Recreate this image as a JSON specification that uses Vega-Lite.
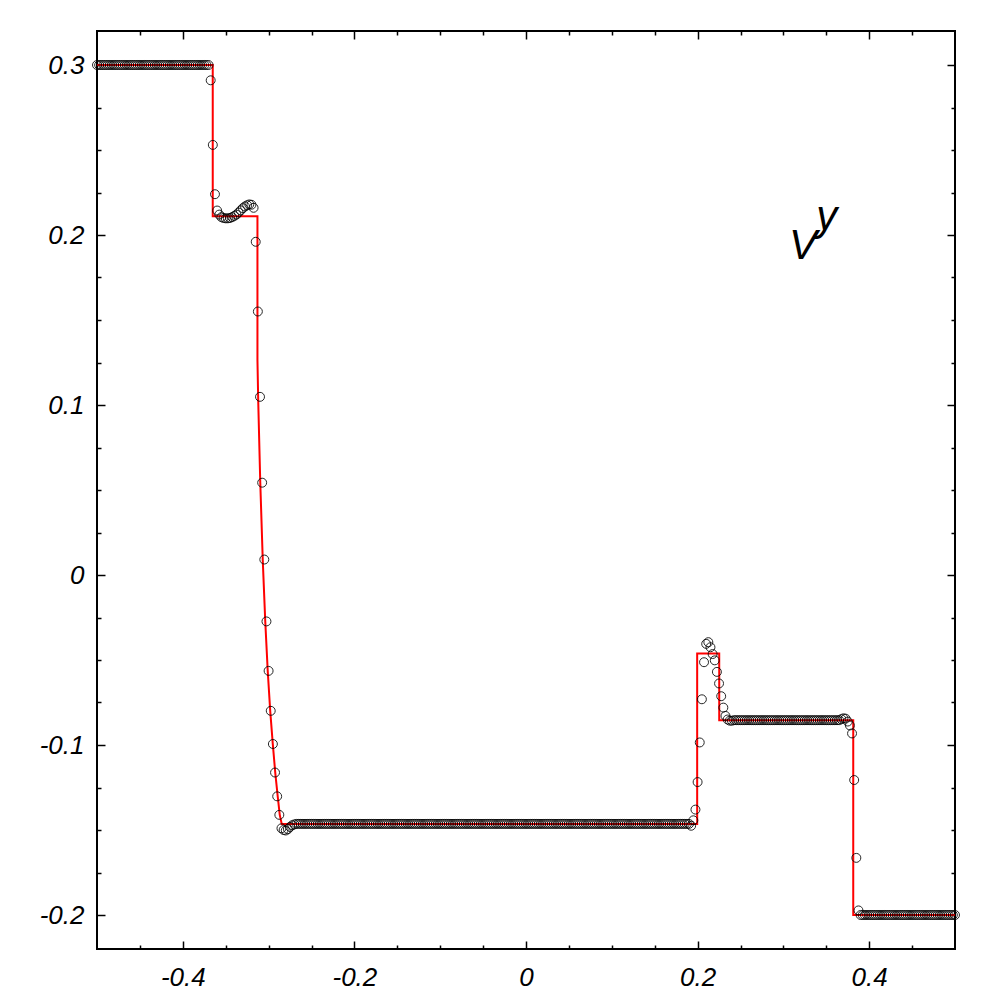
{
 "$schema": "https://vega.github.io/schema/vega-lite/v6.json",
 "width": 858, "height": 918,
 "autosize": {"type": "none"},
 "padding": {"left": 97, "top": 31, "right": 45, "bottom": 51},
 "background": "white",
 "config": {"view": {"stroke": "#000", "strokeWidth": 2}},
 "datasets": {
  "exact": [
   {"k":0,"x":-0.5,"y":0.3},{"k":1,"x":-0.3651,"y":0.3},{"k":2,"x":-0.3651,"y":0.2111},{"k":3,"x":-0.313,"y":0.2111},{"k":4,"x":-0.313,"y":0.1265},{"k":5,"x":-0.3121,"y":0.1025},{"k":6,"x":-0.3097,"y":0.0543},{"k":7,"x":-0.3068,"y":0.0086},{"k":8,"x":-0.3039,"y":-0.0273},{"k":9,"x":-0.301,"y":-0.0566},{"k":10,"x":-0.2981,"y":-0.0801},{"k":11,"x":-0.2951,"y":-0.0995},{"k":12,"x":-0.2922,"y":-0.1165},{"k":13,"x":-0.2893,"y":-0.1306},{"k":14,"x":-0.287,"y":-0.1411},{"k":15,"x":-0.2847,"y":-0.1464},{"k":16,"x":0.1995,"y":-0.1464},{"k":17,"x":0.1995,"y":-0.0462},{"k":18,"x":0.2252,"y":-0.0462},{"k":19,"x":0.2252,"y":-0.0854},{"k":20,"x":0.3814,"y":-0.0854},{"k":21,"x":0.3814,"y":-0.2},{"k":22,"x":0.5,"y":-0.2}
  ],
  "ann": [
   {"x":0.3066,"y":0.1858,"t":"V"},{"x":0.3383,"y":0.2029,"t":"y"}
  ],
  "num": [
   {"x":-0.5,"y":0.3},{"x":-0.4975,"y":0.3},{"x":-0.495,"y":0.3},{"x":-0.4925,"y":0.3},{"x":-0.49,"y":0.3},{"x":-0.4875,"y":0.3},{"x":-0.485,"y":0.3},{"x":-0.4825,"y":0.3},{"x":-0.48,"y":0.3},{"x":-0.4775,"y":0.3},{"x":-0.475,"y":0.3},{"x":-0.4725,"y":0.3},{"x":-0.47,"y":0.3},{"x":-0.4675,"y":0.3},{"x":-0.465,"y":0.3},{"x":-0.4625,"y":0.3},{"x":-0.46,"y":0.3},{"x":-0.4575,"y":0.3},{"x":-0.455,"y":0.3},{"x":-0.4525,"y":0.3},{"x":-0.45,"y":0.3},{"x":-0.4475,"y":0.3},{"x":-0.445,"y":0.3},{"x":-0.4425,"y":0.3},{"x":-0.44,"y":0.3},{"x":-0.4375,"y":0.3},{"x":-0.435,"y":0.3},{"x":-0.4325,"y":0.3},{"x":-0.43,"y":0.3},{"x":-0.4275,"y":0.3},{"x":-0.425,"y":0.3},{"x":-0.4225,"y":0.3},{"x":-0.42,"y":0.3},{"x":-0.4175,"y":0.3},{"x":-0.415,"y":0.3},{"x":-0.4125,"y":0.3},{"x":-0.41,"y":0.3},{"x":-0.4075,"y":0.3},{"x":-0.405,"y":0.3},{"x":-0.4025,"y":0.3},{"x":-0.4,"y":0.3},{"x":-0.3975,"y":0.3},{"x":-0.395,"y":0.3},{"x":-0.3925,"y":0.3},{"x":-0.39,"y":0.3},{"x":-0.3875,"y":0.3},{"x":-0.385,"y":0.3},{"x":-0.3825,"y":0.3},{"x":-0.38,"y":0.3},{"x":-0.3775,"y":0.3},{"x":-0.375,"y":0.3},{"x":-0.3725,"y":0.3},{"x":-0.37,"y":0.3},
   {"x":-0.3675,"y":0.291},{"x":-0.365,"y":0.253},{"x":-0.3625,"y":0.224},{"x":-0.36,"y":0.2144},{"x":-0.3575,"y":0.212},{"x":-0.355,"y":0.2105},{"x":-0.3525,"y":0.21},{"x":-0.35,"y":0.2098},{"x":-0.3475,"y":0.2098},{"x":-0.345,"y":0.21},{"x":-0.3425,"y":0.2105},{"x":-0.34,"y":0.2112},{"x":-0.3375,"y":0.212},{"x":-0.335,"y":0.2132},{"x":-0.3325,"y":0.2145},{"x":-0.33,"y":0.2158},{"x":-0.3275,"y":0.2168},{"x":-0.325,"y":0.2175},{"x":-0.3225,"y":0.218},{"x":-0.32,"y":0.2178},{"x":-0.3175,"y":0.216},{"x":-0.315,"y":0.196},{"x":-0.3125,"y":0.155},{"x":-0.31,"y":0.1048},{"x":-0.3075,"y":0.0543},{"x":-0.305,"y":0.0091},{"x":-0.3025,"y":-0.0273},{"x":-0.3,"y":-0.0564},{"x":-0.2975,"y":-0.0799},{"x":-0.295,"y":-0.0994},{"x":-0.2925,"y":-0.1162},{"x":-0.29,"y":-0.1302},{"x":-0.2875,"y":-0.1411},{"x":-0.285,"y":-0.149},{"x":-0.2825,"y":-0.15},{"x":-0.28,"y":-0.1503},{"x":-0.2775,"y":-0.1495},{"x":-0.275,"y":-0.1482},{"x":-0.2725,"y":-0.1472},{"x":-0.27,"y":-0.1467},
   {"x":-0.2675,"y":-0.1464},{"x":-0.265,"y":-0.1464},{"x":-0.2625,"y":-0.1464},{"x":-0.26,"y":-0.1464},{"x":-0.2575,"y":-0.1464},{"x":-0.255,"y":-0.1464},{"x":-0.2525,"y":-0.1464},{"x":-0.25,"y":-0.1464},{"x":-0.2475,"y":-0.1464},{"x":-0.245,"y":-0.1464},{"x":-0.2425,"y":-0.1464},{"x":-0.24,"y":-0.1464},{"x":-0.2375,"y":-0.1464},{"x":-0.235,"y":-0.1464},{"x":-0.2325,"y":-0.1464},{"x":-0.23,"y":-0.1464},{"x":-0.2275,"y":-0.1464},{"x":-0.225,"y":-0.1464},{"x":-0.2225,"y":-0.1464},{"x":-0.22,"y":-0.1464},{"x":-0.2175,"y":-0.1464},{"x":-0.215,"y":-0.1464},{"x":-0.2125,"y":-0.1464},{"x":-0.21,"y":-0.1464},{"x":-0.2075,"y":-0.1464},{"x":-0.205,"y":-0.1464},{"x":-0.2025,"y":-0.1464},{"x":-0.2,"y":-0.1464},{"x":-0.1975,"y":-0.1464},{"x":-0.195,"y":-0.1464},{"x":-0.1925,"y":-0.1464},{"x":-0.19,"y":-0.1464},{"x":-0.1875,"y":-0.1464},{"x":-0.185,"y":-0.1464},{"x":-0.1825,"y":-0.1464},{"x":-0.18,"y":-0.1464},{"x":-0.1775,"y":-0.1464},{"x":-0.175,"y":-0.1464},{"x":-0.1725,"y":-0.1464},{"x":-0.17,"y":-0.1464},{"x":-0.1675,"y":-0.1464},{"x":-0.165,"y":-0.1464},{"x":-0.1625,"y":-0.1464},{"x":-0.16,"y":-0.1464},{"x":-0.1575,"y":-0.1464},{"x":-0.155,"y":-0.1464},{"x":-0.1525,"y":-0.1464},{"x":-0.15,"y":-0.1464},{"x":-0.1475,"y":-0.1464},{"x":-0.145,"y":-0.1464},{"x":-0.1425,"y":-0.1464},{"x":-0.14,"y":-0.1464},{"x":-0.1375,"y":-0.1464},{"x":-0.135,"y":-0.1464},{"x":-0.1325,"y":-0.1464},{"x":-0.13,"y":-0.1464},{"x":-0.1275,"y":-0.1464},{"x":-0.125,"y":-0.1464},{"x":-0.1225,"y":-0.1464},{"x":-0.12,"y":-0.1464},{"x":-0.1175,"y":-0.1464},{"x":-0.115,"y":-0.1464},{"x":-0.1125,"y":-0.1464},{"x":-0.11,"y":-0.1464},{"x":-0.1075,"y":-0.1464},{"x":-0.105,"y":-0.1464},{"x":-0.1025,"y":-0.1464},{"x":-0.1,"y":-0.1464},{"x":-0.0975,"y":-0.1464},{"x":-0.095,"y":-0.1464},{"x":-0.0925,"y":-0.1464},{"x":-0.09,"y":-0.1464},{"x":-0.0875,"y":-0.1464},{"x":-0.085,"y":-0.1464},{"x":-0.0825,"y":-0.1464},{"x":-0.08,"y":-0.1464},{"x":-0.0775,"y":-0.1464},{"x":-0.075,"y":-0.1464},{"x":-0.0725,"y":-0.1464},{"x":-0.07,"y":-0.1464},{"x":-0.0675,"y":-0.1464},{"x":-0.065,"y":-0.1464},{"x":-0.0625,"y":-0.1464},{"x":-0.06,"y":-0.1464},{"x":-0.0575,"y":-0.1464},{"x":-0.055,"y":-0.1464},{"x":-0.0525,"y":-0.1464},{"x":-0.05,"y":-0.1464},{"x":-0.0475,"y":-0.1464},{"x":-0.045,"y":-0.1464},{"x":-0.0425,"y":-0.1464},{"x":-0.04,"y":-0.1464},{"x":-0.0375,"y":-0.1464},{"x":-0.035,"y":-0.1464},{"x":-0.0325,"y":-0.1464},{"x":-0.03,"y":-0.1464},{"x":-0.0275,"y":-0.1464},{"x":-0.025,"y":-0.1464},{"x":-0.0225,"y":-0.1464},{"x":-0.02,"y":-0.1464},{"x":-0.0175,"y":-0.1464},{"x":-0.015,"y":-0.1464},{"x":-0.0125,"y":-0.1464},{"x":-0.01,"y":-0.1464},{"x":-0.0075,"y":-0.1464},{"x":-0.005,"y":-0.1464},{"x":-0.0025,"y":-0.1464},{"x":0,"y":-0.1464},
   {"x":0.0025,"y":-0.1464},{"x":0.005,"y":-0.1464},{"x":0.0075,"y":-0.1464},{"x":0.01,"y":-0.1464},{"x":0.0125,"y":-0.1464},{"x":0.015,"y":-0.1464},{"x":0.0175,"y":-0.1464},{"x":0.02,"y":-0.1464},{"x":0.0225,"y":-0.1464},{"x":0.025,"y":-0.1464},{"x":0.0275,"y":-0.1464},{"x":0.03,"y":-0.1464},{"x":0.0325,"y":-0.1464},{"x":0.035,"y":-0.1464},{"x":0.0375,"y":-0.1464},{"x":0.04,"y":-0.1464},{"x":0.0425,"y":-0.1464},{"x":0.045,"y":-0.1464},{"x":0.0475,"y":-0.1464},{"x":0.05,"y":-0.1464},{"x":0.0525,"y":-0.1464},{"x":0.055,"y":-0.1464},{"x":0.0575,"y":-0.1464},{"x":0.06,"y":-0.1464},{"x":0.0625,"y":-0.1464},{"x":0.065,"y":-0.1464},{"x":0.0675,"y":-0.1464},{"x":0.07,"y":-0.1464},{"x":0.0725,"y":-0.1464},{"x":0.075,"y":-0.1464},{"x":0.0775,"y":-0.1464},{"x":0.08,"y":-0.1464},{"x":0.0825,"y":-0.1464},{"x":0.085,"y":-0.1464},{"x":0.0875,"y":-0.1464},{"x":0.09,"y":-0.1464},{"x":0.0925,"y":-0.1464},{"x":0.095,"y":-0.1464},{"x":0.0975,"y":-0.1464},{"x":0.1,"y":-0.1464},{"x":0.1025,"y":-0.1464},{"x":0.105,"y":-0.1464},{"x":0.1075,"y":-0.1464},{"x":0.11,"y":-0.1464},{"x":0.1125,"y":-0.1464},{"x":0.115,"y":-0.1464},{"x":0.1175,"y":-0.1464},{"x":0.12,"y":-0.1464},{"x":0.1225,"y":-0.1464},{"x":0.125,"y":-0.1464},{"x":0.1275,"y":-0.1464},{"x":0.13,"y":-0.1464},{"x":0.1325,"y":-0.1464},{"x":0.135,"y":-0.1464},{"x":0.1375,"y":-0.1464},{"x":0.14,"y":-0.1464},{"x":0.1425,"y":-0.1464},{"x":0.145,"y":-0.1464},{"x":0.1475,"y":-0.1464},{"x":0.15,"y":-0.1464},{"x":0.1525,"y":-0.1464},{"x":0.155,"y":-0.1464},{"x":0.1575,"y":-0.1464},{"x":0.16,"y":-0.1464},{"x":0.1625,"y":-0.1464},{"x":0.165,"y":-0.1464},{"x":0.1675,"y":-0.1464},{"x":0.17,"y":-0.1464},{"x":0.1725,"y":-0.1464},{"x":0.175,"y":-0.1464},{"x":0.1775,"y":-0.1464},{"x":0.18,"y":-0.1464},{"x":0.1825,"y":-0.1464},{"x":0.185,"y":-0.1464},{"x":0.1875,"y":-0.1464},{"x":0.19,"y":-0.1464},
   {"x":0.1925,"y":-0.1475},{"x":0.195,"y":-0.1443},{"x":0.1975,"y":-0.138},{"x":0.2,"y":-0.1218},{"x":0.2025,"y":-0.0985},{"x":0.205,"y":-0.0731},{"x":0.2075,"y":-0.0513},{"x":0.21,"y":-0.0405},{"x":0.2125,"y":-0.0395},{"x":0.215,"y":-0.0425},{"x":0.2175,"y":-0.0465},{"x":0.22,"y":-0.0502},{"x":0.2225,"y":-0.057},{"x":0.225,"y":-0.0638},{"x":0.2275,"y":-0.0713},{"x":0.23,"y":-0.078},{"x":0.2325,"y":-0.0829},{"x":0.235,"y":-0.085},{"x":0.2375,"y":-0.0857},{"x":0.24,"y":-0.0857},
   {"x":0.2425,"y":-0.0854},{"x":0.245,"y":-0.0854},{"x":0.2475,"y":-0.0854},{"x":0.25,"y":-0.0854},{"x":0.2525,"y":-0.0854},{"x":0.255,"y":-0.0854},{"x":0.2575,"y":-0.0854},{"x":0.26,"y":-0.0854},{"x":0.2625,"y":-0.0854},{"x":0.265,"y":-0.0854},{"x":0.2675,"y":-0.0854},{"x":0.27,"y":-0.0854},{"x":0.2725,"y":-0.0854},{"x":0.275,"y":-0.0854},{"x":0.2775,"y":-0.0854},{"x":0.28,"y":-0.0854},{"x":0.2825,"y":-0.0854},{"x":0.285,"y":-0.0854},{"x":0.2875,"y":-0.0854},{"x":0.29,"y":-0.0854},{"x":0.2925,"y":-0.0854},{"x":0.295,"y":-0.0854},{"x":0.2975,"y":-0.0854},{"x":0.3,"y":-0.0854},{"x":0.3025,"y":-0.0854},{"x":0.305,"y":-0.0854},{"x":0.3075,"y":-0.0854},{"x":0.31,"y":-0.0854},{"x":0.3125,"y":-0.0854},{"x":0.315,"y":-0.0854},{"x":0.3175,"y":-0.0854},{"x":0.32,"y":-0.0854},{"x":0.3225,"y":-0.0854},{"x":0.325,"y":-0.0854},{"x":0.3275,"y":-0.0854},{"x":0.33,"y":-0.0854},{"x":0.3325,"y":-0.0854},{"x":0.335,"y":-0.0854},{"x":0.3375,"y":-0.0854},{"x":0.34,"y":-0.0854},{"x":0.3425,"y":-0.0854},{"x":0.345,"y":-0.0854},{"x":0.3475,"y":-0.0854},{"x":0.35,"y":-0.0854},{"x":0.3525,"y":-0.0854},{"x":0.355,"y":-0.0854},{"x":0.3575,"y":-0.0854},{"x":0.36,"y":-0.0854},{"x":0.3625,"y":-0.0854},{"x":0.365,"y":-0.0854},
   {"x":0.3675,"y":-0.0848},{"x":0.37,"y":-0.0843},{"x":0.3725,"y":-0.0845},{"x":0.375,"y":-0.0862},{"x":0.3775,"y":-0.0885},{"x":0.38,"y":-0.0932},{"x":0.3825,"y":-0.1206},{"x":0.385,"y":-0.1664},{"x":0.3875,"y":-0.1973},
   {"x":0.39,"y":-0.2},{"x":0.3925,"y":-0.2},{"x":0.395,"y":-0.2},{"x":0.3975,"y":-0.2},{"x":0.4,"y":-0.2},{"x":0.4025,"y":-0.2},{"x":0.405,"y":-0.2},{"x":0.4075,"y":-0.2},{"x":0.41,"y":-0.2},{"x":0.4125,"y":-0.2},{"x":0.415,"y":-0.2},{"x":0.4175,"y":-0.2},{"x":0.42,"y":-0.2},{"x":0.4225,"y":-0.2},{"x":0.425,"y":-0.2},{"x":0.4275,"y":-0.2},{"x":0.43,"y":-0.2},{"x":0.4325,"y":-0.2},{"x":0.435,"y":-0.2},{"x":0.4375,"y":-0.2},{"x":0.44,"y":-0.2},{"x":0.4425,"y":-0.2},{"x":0.445,"y":-0.2},{"x":0.4475,"y":-0.2},{"x":0.45,"y":-0.2},{"x":0.4525,"y":-0.2},{"x":0.455,"y":-0.2},{"x":0.4575,"y":-0.2},{"x":0.46,"y":-0.2},{"x":0.4625,"y":-0.2},{"x":0.465,"y":-0.2},{"x":0.4675,"y":-0.2},{"x":0.47,"y":-0.2},{"x":0.4725,"y":-0.2},{"x":0.475,"y":-0.2},{"x":0.4775,"y":-0.2},{"x":0.48,"y":-0.2},{"x":0.4825,"y":-0.2},{"x":0.485,"y":-0.2},{"x":0.4875,"y":-0.2},{"x":0.49,"y":-0.2},{"x":0.4925,"y":-0.2},{"x":0.495,"y":-0.2},{"x":0.4975,"y":-0.2},{"x":0.5,"y":-0.2}
  ]
 },
 "layer": [
  {
   "data": {"name": "exact"},
   "mark": {"type": "line", "color": "#ff0000", "strokeWidth": 2},
   "encoding": {
    "x": {"field": "x", "type": "quantitative", "scale": {"domain": [-0.5, 0.5], "nice": false, "zero": false},
     "axis": {"orient": "bottom", "title": null, "grid": false, "domain": false,
      "values": [-0.45,-0.4,-0.35,-0.3,-0.25,-0.2,-0.15,-0.1,-0.05,0,0.05,0.1,0.15,0.2,0.25,0.3,0.35,0.4,0.45],
      "tickColor": "#000", "tickWidth": 1.5,
      "tickSize": {"condition": {"test": "abs(datum.value*5-round(datum.value*5))<0.001", "value": -8}, "value": -4},
      "labelExpr": "abs(datum.value*5-round(datum.value*5))<0.001 ? toString(round(datum.value*5)/5) : ''",
      "labelFont": "Liberation Sans", "labelFontStyle": "italic", "labelFontSize": 26, "labelColor": "#000",
      "labelPadding": 23, "labelOverlap": false, "labelFlush": false, "labelBound": false}},
    "y": {"field": "y", "type": "quantitative", "scale": {"domain": [-0.22, 0.32], "nice": false, "zero": false},
     "axis": {"orient": "left", "title": null, "grid": false, "domain": false,
      "values": [-0.2,-0.175,-0.15,-0.125,-0.1,-0.075,-0.05,-0.025,0,0.025,0.05,0.075,0.1,0.125,0.15,0.175,0.2,0.225,0.25,0.275,0.3],
      "tickColor": "#000", "tickWidth": 1.5,
      "tickSize": {"condition": {"test": "abs(datum.value*10-round(datum.value*10))<0.001", "value": -8}, "value": -4},
      "labelExpr": "abs(datum.value*10-round(datum.value*10))<0.001 ? toString(round(datum.value*10)/10) : ''",
      "labelFont": "Liberation Sans", "labelFontStyle": "italic", "labelFontSize": 26, "labelColor": "#000",
      "labelPadding": 21, "labelOverlap": false, "labelFlush": false, "labelBound": false}},
    "order": {"field": "k", "type": "quantitative"}
   }
  },
  {
   "data": {"name": "num"},
   "mark": {"type": "point", "shape": "circle", "filled": false, "size": 80, "stroke": "#000", "strokeWidth": 1, "opacity": 0.85},
   "encoding": {
    "x": {"field": "x", "type": "quantitative",
     "axis": {"orient": "top", "title": null, "grid": false, "domain": false, "labels": false,
      "values": [-0.45,-0.4,-0.35,-0.3,-0.25,-0.2,-0.15,-0.1,-0.05,0,0.05,0.1,0.15,0.2,0.25,0.3,0.35,0.4,0.45],
      "tickColor": "#000", "tickWidth": 1.5,
      "tickSize": {"condition": {"test": "abs(datum.value*5-round(datum.value*5))<0.001", "value": -8}, "value": -4}}},
    "y": {"field": "y", "type": "quantitative",
     "axis": {"orient": "right", "title": null, "grid": false, "domain": false, "labels": false,
      "values": [-0.2,-0.175,-0.15,-0.125,-0.1,-0.075,-0.05,-0.025,0,0.025,0.05,0.075,0.1,0.125,0.15,0.175,0.2,0.225,0.25,0.275,0.3],
      "tickColor": "#000", "tickWidth": 1.5,
      "tickSize": {"condition": {"test": "abs(datum.value*10-round(datum.value*10))<0.001", "value": -8}, "value": -4}}}
   }
  },
  {
   "data": {"name": "ann"},
   "mark": {"type": "text", "font": "Liberation Sans", "fontStyle": "italic", "fontSize": 42, "align": "left", "baseline": "alphabetic", "color": "#000"},
   "encoding": {
    "x": {"field": "x", "type": "quantitative", "axis": null},
    "y": {"field": "y", "type": "quantitative", "axis": null},
    "text": {"field": "t"}
   }
  }
 ],
 "resolve": {"axis": {"x": "independent", "y": "independent"}}
}
